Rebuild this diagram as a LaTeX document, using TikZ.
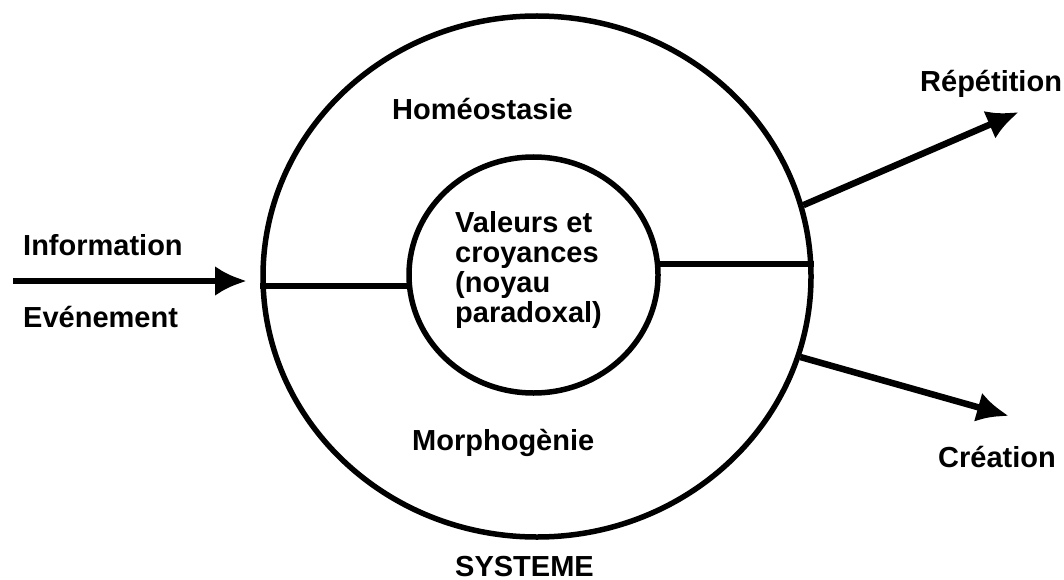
\documentclass[tikz,border=0pt]{standalone}
\usepackage{fontspec}
\setmainfont{Liberation Sans}
\usetikzlibrary{shapes.geometric,arrows.meta}
\begin{document}
\begin{tikzpicture}[x=1pt,y=1pt,
  lbl/.style={anchor=base west,inner sep=0pt,font=\fontsize{29}{30}\selectfont\bfseries},
  ring/.style={draw,ellipse,inner sep=0pt,line width=5.5pt},
  link/.style={line width=6pt},
  arr/.style={line width=6.5pt,-{Latex[length=32pt,width=30pt]}}]
\useasboundingbox[fill=white] (0,0) rectangle (1064,-580);
\node[ring,minimum width=548pt,minimum height=521pt] (outer) at (537,-276.5) {};
\node[ring,minimum width=249pt,minimum height=236pt] (inner) at (533.5,-275) {};
\node[lbl,align=left] (core) at (455,-322) {Valeurs et\\croyances\\(noyau\\paradoxal)};
\draw[link] (inner.185) -- (inner.185 -| outer.west);
\draw[link] (inner.5) -- (inner.5 -| outer.east);
\coordinate (instart) at (13,-281);
\coordinate (inend) at (247,-281);
\draw[arr] (instart) -- (inend);
\coordinate (reptip) at (1019,-112);
\coordinate (cretip) at (1009,-416);
\draw[arr] (outer.15.6) -- (reptip);
\draw[arr] (outer.343.8) -- (cretip);
\node[lbl] (info) at (23,-255) {Information};
\node[lbl] (even) at (23,-327) {Evénement};
\node[lbl] (homeo) at (392,-120) {Homéostasie};
\node[lbl] (morpho) at (412,-450) {Morphogènie};
\node[lbl] (sys) at (455,-576) {SYSTEME};
\node[lbl] (rep) at (920,-92) {Répétition};
\node[lbl] (crea) at (938,-467) {Création};
\end{tikzpicture}
\end{document}
